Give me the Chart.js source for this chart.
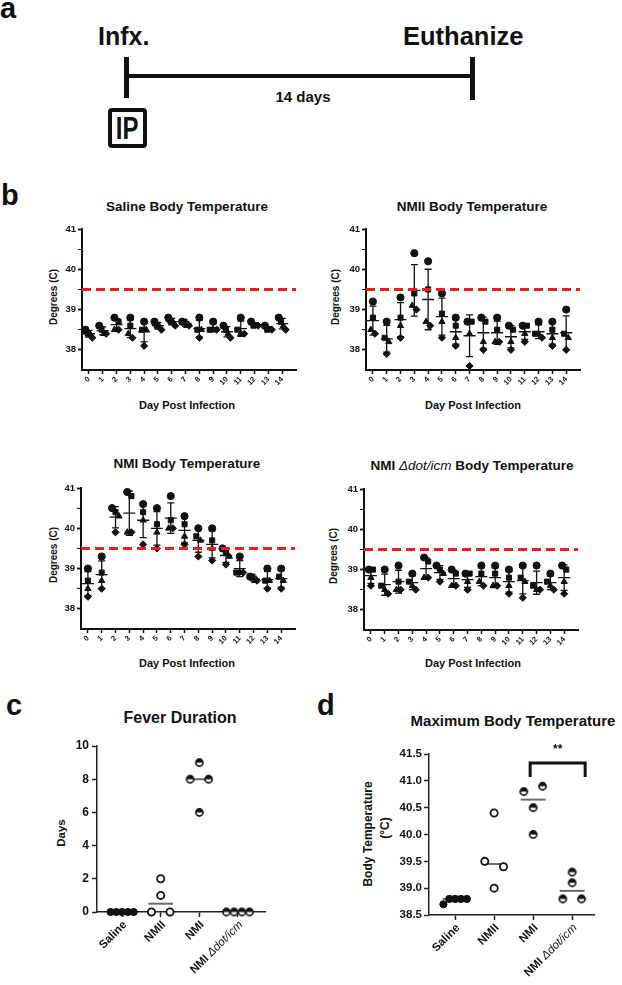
<!DOCTYPE html>
<html>
<head>
<meta charset="utf-8">
<title>Fever figure</title>
<script src="https://cdn.jsdelivr.net/npm/chart.js@4.4.1/dist/chart.umd.min.js"></script>
<style>
  html, body { margin: 0; padding: 0; background: #fff; }
  #page { position: relative; width: 622px; height: 985px; overflow: hidden;
          font-family: "Liberation Sans", Arial, sans-serif; color: #111; }
  #page canvas { position: absolute; left: 0; top: 0; }
  .t { position: absolute; line-height: 1; white-space: nowrap; font-weight: bold; }
  .c { transform: translateX(-50%); }
  .v { transform: translate(-50%, -50%) rotate(-90deg); }
  .lbl { font-size: 29px; }
  .bar { position: absolute; background: #111; }
  .ttl { font-size: 13.5px; }
  .ax { font-size: 11px; }
  .yt { font-size: 10px; }
  i { font-weight: normal; }
</style>
</head>
<body>
<div id="page">
  <!-- panel a: timeline -->
  <div class="t lbl" style="left:0;top:-6.5px">a</div>
  <div class="t" style="left:98px;top:23.5px;font-size:25px">Infx.</div>
  <div class="t" style="left:403px;top:23.5px;font-size:25.5px">Euthanize</div>
  <div class="bar" style="left:124px;top:57px;width:5px;height:41px"></div>
  <div class="bar" style="left:470px;top:57px;width:5px;height:43px"></div>
  <div class="bar" style="left:126px;top:74px;width:346px;height:4px"></div>
  <div class="t c" style="left:303px;top:88.5px;font-size:15px">14 days</div>
  <div style="position:absolute;left:108px;top:108px;width:39px;height:40px;box-sizing:border-box;border:4px solid #111;border-radius:4px;display:flex;align-items:center;justify-content:center">
    <span style="font-weight:bold;font-size:32px;line-height:1;transform:scaleX(0.75)">IP</span>
  </div>

  <!-- panel b -->
  <div class="t lbl" style="left:1px;top:180.5px">b</div>
  <div class="t c ttl" style="left:187px;top:200px">Saline Body Temperature</div>
  <div class="t c ttl" style="left:472px;top:200px">NMII Body Temperature</div>
  <div class="t c ttl" style="left:187px;top:457px">NMI Body Temperature</div>
  <div class="t c ttl" style="left:472px;top:459px">NMI <i>Δdot/icm</i> Body Temperature</div>
  <div class="t c ax" style="left:187px;top:399.5px">Day Post Infection</div>
  <div class="t c ax" style="left:473px;top:399.5px">Day Post Infection</div>
  <div class="t c ax" style="left:187px;top:657.5px">Day Post Infection</div>
  <div class="t c ax" style="left:473px;top:657.5px">Day Post Infection</div>
  <div class="t v yt" style="left:54px;top:297px">Degrees (C)</div>
  <div class="t v yt" style="left:336px;top:297px">Degrees (C)</div>
  <div class="t v yt" style="left:54px;top:555px">Degrees (C)</div>
  <div class="t v yt" style="left:334px;top:556px">Degrees (C)</div>

  <!-- panels c, d -->
  <div class="t lbl" style="left:6px;top:690.5px">c</div>
  <div class="t lbl" style="left:317px;top:690.5px">d</div>
  <div class="t c" style="left:180px;top:710px;font-size:16px">Fever Duration</div>
  <div class="t c" style="left:513px;top:712.5px;font-size:15px">Maximum Body Temperature</div>
  <div class="t v" style="left:62px;top:833px;font-size:11.5px">Days</div>
  <div class="t v" style="left:368px;top:834px;font-size:12px">Body Temperature</div>
  <div class="t v" style="left:385px;top:828px;font-size:12px">(°C)</div>

  <canvas id="cSal" width="622" height="985"></canvas>
  <canvas id="cNmii" width="622" height="985"></canvas>
  <canvas id="cNmi" width="622" height="985"></canvas>
  <canvas id="cDot" width="622" height="985"></canvas>
  <canvas id="cFever" width="622" height="985"></canvas>
  <canvas id="cMax" width="622" height="985"></canvas>
</div>

<script>
"use strict";

// ---- data ----
const DAYS = [0, 1, 2, 3, 4, 5, 6, 7, 8, 9, 10, 11, 12, 13, 14];
const FEVER_C = 39.5;                       // fever threshold (dashed line)
const TEMP_TICKS = [38, 38.5, 39, 39.5, 40, 40.5, 41];

// body temperature (C) per day, four mice per day
const SALINE_T = [
  [38.5, 38.4, 38.4, 38.3], [38.6, 38.5, 38.4, 38.4], [38.8, 38.7, 38.5, 38.5],
  [38.8, 38.6, 38.4, 38.3], [38.7, 38.5, 38.5, 38.1], [38.7, 38.6, 38.6, 38.5],
  [38.8, 38.7, 38.7, 38.6], [38.7, 38.7, 38.6, 38.6], [38.8, 38.5, 38.5, 38.3],
  [38.7, 38.5, 38.5, 38.5], [38.6, 38.5, 38.4, 38.3], [38.8, 38.5, 38.4, 38.4],
  [38.7, 38.6, 38.6, 38.6], [38.6, 38.5, 38.5, 38.5], [38.8, 38.7, 38.6, 38.5],
];
const NMII_T = [
  [39.2, 38.8, 38.5, 38.4], [38.7, 38.3, 38.2, 37.9], [39.3, 38.8, 38.6, 38.3],
  [40.4, 39.4, 39.1, 39.0], [40.2, 39.5, 38.7, 38.6], [39.4, 38.9, 38.7, 38.3],
  [38.8, 38.6, 38.3, 38.1], [38.7, 38.7, 38.4, 37.6], [38.8, 38.7, 38.2, 38.0],
  [38.8, 38.5, 38.2, 38.2], [38.6, 38.5, 38.2, 38.0], [38.6, 38.6, 38.4, 38.2],
  [38.7, 38.4, 38.4, 38.3], [38.7, 38.5, 38.3, 38.1], [39.0, 38.4, 38.3, 38.0],
];
const NMI_T = [
  [39.0, 38.7, 38.5, 38.3], [39.3, 38.9, 38.7, 38.5], [40.5, 40.4, 40.3, 39.9],
  [40.9, 40.8, 39.9, 39.9], [40.6, 40.4, 40.2, 39.6], [40.5, 40.1, 39.9, 39.5],
  [40.8, 40.2, 40.0, 40.0], [40.3, 40.1, 39.8, 39.6], [40.0, 39.8, 39.7, 39.3],
  [40.0, 39.7, 39.5, 39.2], [39.5, 39.4, 39.3, 39.1], [39.3, 38.9, 38.9, 38.9],
  [38.8, 38.8, 38.7, 38.7], [39.0, 38.7, 38.7, 38.5], [39.0, 38.8, 38.7, 38.5],
];
const DOTICM_T = [
  [39.0, 39.0, 38.8, 38.6], [39.0, 38.6, 38.5, 38.4], [39.1, 38.7, 38.5, 38.5],
  [38.9, 38.7, 38.6, 38.5], [39.3, 39.2, 38.8, 38.8], [39.1, 39.0, 38.9, 38.7],
  [39.0, 38.9, 38.6, 38.6], [38.9, 38.9, 38.7, 38.5], [39.1, 38.9, 38.7, 38.6],
  [39.1, 38.9, 38.6, 38.6], [39.0, 38.8, 38.6, 38.4], [39.1, 38.8, 38.7, 38.3],
  [39.1, 38.6, 38.5, 38.5], [38.9, 38.7, 38.6, 38.5], [39.1, 39.0, 38.7, 38.4],
];

const GROUPS = ["Saline", "NMII", "NMI", "NMI Δdot/icm"];
const FEVER_DAYS = [[0, 0, 0, 0, 0], [0, 2, 1, 0], [8, 9, 6, 8], [0, 0, 0, 0]];
const DAY_TICKS = [0, 2, 4, 6, 8, 10];
const MAX_T = [[38.7, 38.8, 38.8, 38.8, 38.8], [39.5, 40.4, 39.0, 39.4],
               [40.8, 40.9, 40.5, 40.0], [39.3, 39.1, 38.8, 38.8]];
const MAX_TICKS = [38.5, 39, 39.5, 40, 40.5, 41, 41.5];
const SIG = { from: 2, to: 3, text: "**" };

// ---- layout ----
const W = 622, H = 985, YW = 40, XH = 40;
const INK = "#111";
const FONT = '"Liberation Sans", Arial, sans-serif';

Chart.defaults.font.family = FONT;
Chart.defaults.font.weight = "bold";
Chart.defaults.color = INK;
Chart.defaults.animation = false;

function padFor(a) {
  return { left: a.left - YW, top: a.top, right: W - a.right, bottom: H - a.bottom - XH };
}
function fixSize(s) { if (s.isHorizontal()) s.height = XH; else s.width = YW; }
const setTicks = (vals) => (s) => { s.ticks = vals.map((v) => ({ value: v })); };

const mean = (a) => a.reduce((s, v) => s + v, 0) / a.length;
const sd = (a) => { const m = mean(a); return Math.sqrt(a.reduce((s, v) => s + (v - m) ** 2, 0) / (a.length - 1)); };
const median = (a) => { const s = [...a].sort((p, q) => p - q), n = s.length;
  return n % 2 ? s[(n - 1) / 2] : (s[n / 2 - 1] + s[n / 2]) / 2; };

// spread near-equal values sideways, like a column scatter
function dodge(vals, tol, spread, maxGap) {
  const groups = [];
  vals.forEach((v, i) => {
    const g = groups.find((g) => g.some((j) => Math.abs(vals[j] - v) < tol));
    if (g) g.push(i); else groups.push([i]);
  });
  const off = new Array(vals.length).fill(0);
  groups.forEach((g) => {
    const k = g.length;
    if (k < 2) return;
    const step = Math.min(maxGap, spread / (k - 1));
    g.forEach((idx, j) => { off[idx] = (j - (k - 1) / 2) * step; });
  });
  return off;
}

// ---- plugins ----
const errorBars = {
  id: "errorBars",
  beforeDatasetsDraw(chart, args, opts) {
    if (!opts.rows) return;
    const { ctx, scales: { x, y } } = chart;
    ctx.save();
    ctx.strokeStyle = INK;
    ctx.lineWidth = 1.3;
    opts.rows.forEach((vals, i) => {
      const m = mean(vals), s = sd(vals);
      const px = x.getPixelForValue(DAYS[i]);
      const top = y.getPixelForValue(m + s), bot = y.getPixelForValue(m - s), mid = y.getPixelForValue(m);
      ctx.beginPath();
      ctx.moveTo(px, top); ctx.lineTo(px, bot);
      ctx.moveTo(px - 3.5, top); ctx.lineTo(px + 3.5, top);
      ctx.moveTo(px - 3.5, bot); ctx.lineTo(px + 3.5, bot);
      ctx.moveTo(px - 6, mid); ctx.lineTo(px + 6, mid);
      ctx.stroke();
    });
    ctx.restore();
  },
};

function richParts(text) {
  return text.split(/(Δdot\/icm)/).filter(Boolean).map((s) => ({
    s, font: (s === "Δdot/icm" ? "italic " : "bold ") + "11.5px " + FONT,
  }));
}

const groupPlot = {
  id: "groupPlot",
  beforeDatasetsDraw(chart, args, opts) {
    if (!opts.groups) return;
    const { ctx, scales: { x, y } } = chart;
    ctx.save();
    ctx.strokeStyle = "#6b6b6b";
    ctx.lineWidth = 2;
    opts.groups.forEach((vals, gi) => {
      const py = y.getPixelForValue(median(vals));
      ctx.beginPath();
      ctx.moveTo(x.getPixelForValue(gi - 0.32), py);
      ctx.lineTo(x.getPixelForValue(gi + 0.32), py);
      ctx.stroke();
    });
    ctx.restore();
  },
  afterDraw(chart, args, opts) {
    if (!opts.groups) return;
    const { ctx, chartArea, scales: { x } } = chart;
    ctx.save();
    ctx.fillStyle = INK;
    GROUPS.forEach((name, gi) => {
      ctx.save();
      ctx.translate(x.getPixelForValue(gi) + 3, chartArea.bottom + 11);
      ctx.rotate(-Math.PI / 4);
      const parts = richParts(name);
      let w = 0;
      parts.forEach((p) => { ctx.font = p.font; p.w = ctx.measureText(p.s).width; w += p.w; });
      let cx = -w;
      ctx.textBaseline = "middle";
      ctx.textAlign = "left";
      parts.forEach((p) => { ctx.font = p.font; ctx.fillText(p.s, cx, 0); cx += p.w; });
      ctx.restore();
    });
    if (opts.sig) {
      const x0 = x.getPixelForValue(opts.sig.from) - 3, x1 = x.getPixelForValue(opts.sig.to) + 13;
      const top = chartArea.top + 9, legs = top + 14;
      ctx.strokeStyle = INK;
      ctx.lineWidth = 3;
      ctx.beginPath();
      ctx.moveTo(x0, legs); ctx.lineTo(x0, top); ctx.lineTo(x1, top); ctx.lineTo(x1, legs);
      ctx.stroke();
      ctx.font = "bold 12px " + FONT;
      ctx.textAlign = "center";
      ctx.textBaseline = "middle";
      ctx.fillText(opts.sig.text, (x0 + x1) / 2, chartArea.top - 4);
    }
    ctx.restore();
  },
};

// ---- panel b: temperature over time ----
const B_XMIN = -0.5, B_XMAX = 15;
const SHAPES = ["circle", "rect", "triangle", "rectRot"];

function tempChart(id, rows, area) {
  const pts = rows.flatMap((vals, i) => {
    const off = dodge(vals, 0.12, 0.5, 0.3);
    return vals.map((v, j) => ({ x: DAYS[i] + off[j], y: v }));
  });
  return new Chart(document.getElementById(id), {
    type: "scatter",
    data: {
      datasets: [
        { data: pts, pointStyle: (c) => SHAPES[c.dataIndex % 4], radius: 3.6,
          backgroundColor: INK, borderColor: INK, borderWidth: 1, clip: false, order: 1 },
        { type: "line", data: [{ x: B_XMIN, y: FEVER_C }, { x: B_XMAX, y: FEVER_C }],
          borderColor: "#ee1c1c", borderWidth: 3, borderDash: [9, 5], pointRadius: 0, order: 0 },
      ],
    },
    options: {
      responsive: false, events: [],
      layout: { padding: padFor(area) },
      plugins: { legend: { display: false }, tooltip: { enabled: false }, errorBars: { rows } },
      scales: {
        x: { type: "linear", min: B_XMIN, max: B_XMAX, afterFit: fixSize, afterBuildTicks: setTicks(DAYS),
             grid: { drawOnChartArea: false, tickLength: 4, tickColor: INK, tickWidth: 1.5 },
             border: { color: INK, width: 2 },
             ticks: { autoSkip: false, minRotation: 45, maxRotation: 45, padding: 1, font: { size: 7.5 } } },
        y: { min: 37.5, max: 41, afterFit: fixSize, afterBuildTicks: setTicks(TEMP_TICKS),
             grid: { drawOnChartArea: false, tickLength: 4, tickColor: INK,
                     tickWidth: (c) => (Number.isInteger(c.tick.value) ? 1.8 : 1) },
             border: { color: INK, width: 2 },
             ticks: { padding: 2, font: { size: 9.5 }, callback: (v) => (Number.isInteger(v) ? v : "") } },
      },
    },
    plugins: [errorBars],
  });
}

tempChart("cSal", SALINE_T, { left: 82, top: 229, right: 296, bottom: 370 });
tempChart("cNmii", NMII_T, { left: 366, top: 229, right: 580, bottom: 370 });
tempChart("cNmi", NMI_T, { left: 81, top: 488, right: 295, bottom: 629 });
tempChart("cDot", DOTICM_T, { left: 364, top: 489, right: 578, bottom: 630 });

// ---- panels c, d: per-group scatter with medians ----
function halfDot(r) {
  const c = document.createElement("canvas");
  const s = Math.ceil(2 * r + 3);
  c.width = c.height = s;
  const g = c.getContext("2d"), m = s / 2;
  g.fillStyle = "#fff";
  g.beginPath(); g.arc(m, m, r, 0, Math.PI * 2); g.fill();
  g.fillStyle = INK;
  g.beginPath(); g.arc(m, m, r, Math.PI, 0); g.fill();
  g.strokeStyle = INK; g.lineWidth = 1.6;
  g.beginPath(); g.arc(m, m, r, 0, Math.PI * 2); g.stroke();
  return c;
}
const HALF = halfDot(3.6);
const MARKS = [
  { pointStyle: "circle", backgroundColor: INK, borderColor: INK, borderWidth: 1 },
  { pointStyle: "circle", backgroundColor: "#fff", borderColor: INK, borderWidth: 1.8 },
  { pointStyle: HALF },
  { pointStyle: HALF },
];

function dotChart(id, groups, area, y, tol, sig) {
  const datasets = groups.map((vals, gi) => {
    const off = dodge(vals, tol, 0.6, 0.48);
    return Object.assign({ data: vals.map((v, j) => ({ x: gi + off[j], y: v })), radius: 3.6, clip: false }, MARKS[gi]);
  });
  return new Chart(document.getElementById(id), {
    type: "scatter",
    data: { datasets },
    options: {
      responsive: false, events: [],
      layout: { padding: padFor(area) },
      plugins: { legend: { display: false }, tooltip: { enabled: false }, groupPlot: { groups, sig } },
      scales: {
        x: { type: "linear", min: area.xMin, max: area.xMax, afterFit: fixSize,
             afterBuildTicks: setTicks(GROUPS.map((_, i) => i)),
             grid: { drawOnChartArea: false, tickLength: 5, tickColor: "#222", tickWidth: 1.5 },
             border: { color: "#222", width: 1.5 },
             ticks: { autoSkip: false, maxRotation: 0, callback: () => "" } },
        y: Object.assign({ afterFit: fixSize,
             grid: { drawOnChartArea: false, tickLength: 5, tickColor: "#222", tickWidth: 1.5 },
             border: { color: "#222", width: 1.5 } }, y),
      },
    },
    plugins: [groupPlot],
  });
}

dotChart("cFever", FEVER_DAYS, { left: 97, top: 746, right: 265, bottom: 912, xMin: -0.65, xMax: 3.7 },
  { min: 0, max: 10, afterBuildTicks: setTicks(DAY_TICKS), ticks: { padding: 3, font: { size: 12 } } }, 0.35, null);

dotChart("cMax", MAX_T, { left: 429, top: 754, right: 594, bottom: 915, xMin: -0.67, xMax: 3.56 },
  { min: 38.5, max: 41.5, afterBuildTicks: setTicks(MAX_TICKS),
    ticks: { padding: 2, font: { size: 11.5 }, callback: (v) => v.toFixed(1) } }, 0.12, SIG);
</script>
</body>
</html>
